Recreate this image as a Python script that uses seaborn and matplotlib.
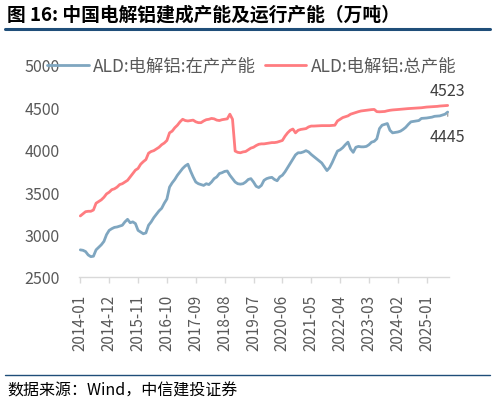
import numpy as np
import pandas as pd
import matplotlib
matplotlib.use("Agg")
import matplotlib.pyplot as plt
from matplotlib.lines import Line2D
import seaborn as sns

# monthly data 2014-01 .. 2025-09 (万吨)
months = pd.date_range("2014-01-01", "2025-09-01", freq="MS").strftime("%Y-%m").tolist()

running = [
    2820, 2815, 2800, 2760, 2740, 2745, 2820, 2850, 2880, 2920, 3000, 3050,  # 2014
    3070, 3085, 3090, 3100, 3110, 3150, 3180, 3140, 3150, 3130, 3050, 3030,  # 2015
    3010, 3020, 3110, 3150, 3200, 3240, 3280, 3310, 3370, 3420, 3560, 3610,  # 2016
    3650, 3700, 3740, 3780, 3810, 3830, 3750, 3680, 3620, 3600, 3590, 3580,  # 2017
    3600, 3590, 3620, 3660, 3680, 3720, 3730, 3745, 3750, 3700, 3660, 3620,  # 2018
    3600, 3595, 3600, 3620, 3650, 3660, 3620, 3570, 3555, 3580, 3640, 3660,  # 2019
    3670, 3675, 3650, 3635, 3680, 3700, 3740, 3790, 3840, 3890, 3940, 3965,  # 2020
    3965, 3975, 3990, 3975, 3945, 3920, 3895, 3870, 3845, 3800, 3755, 3790,  # 2021
    3850, 3920, 3985, 4000, 4025, 4060, 4090, 4010, 3970, 4030, 4040, 4035,  # 2022
    4035, 4040, 4060, 4090, 4100, 4130, 4250, 4290, 4300, 4310, 4230, 4200,  # 2023
    4205, 4210, 4220, 4240, 4265, 4300, 4330, 4335, 4340, 4345, 4370, 4372,  # 2024
    4375, 4380, 4385, 4395, 4398, 4400, 4410, 4420, 4445,                    # 2025
]

total = [
    3220, 3245, 3270, 3275, 3275, 3290, 3370, 3390, 3410, 3440, 3480, 3500,  # 2014
    3530, 3540, 3560, 3590, 3600, 3620, 3640, 3680, 3720, 3760, 3780, 3830,  # 2015
    3860, 3885, 3960, 3980, 3990, 4010, 4030, 4060, 4080, 4110, 4200, 4220,  # 2016
    4260, 4290, 4330, 4360, 4345, 4340, 4345, 4350, 4330, 4320, 4320, 4340,  # 2017
    4355, 4360, 4370, 4365, 4350, 4345, 4355, 4360, 4365, 4420, 4360, 3985,  # 2018
    3970, 3965, 3975, 3980, 4000, 4020, 4030, 4050, 4065, 4070, 4070, 4075,  # 2019
    4080, 4085, 4085, 4090, 4100, 4110, 4160, 4200, 4230, 4245, 4200, 4230,  # 2020
    4240, 4245, 4250, 4270, 4280, 4280, 4282, 4285, 4285, 4285, 4285, 4285,  # 2021
    4288, 4290, 4340, 4360, 4380, 4390, 4400, 4420, 4430, 4440, 4450, 4458,  # 2022
    4462, 4466, 4470, 4474, 4476, 4450, 4448, 4450, 4452, 4460, 4466, 4470,  # 2023
    4472, 4475, 4478, 4480, 4484, 4486, 4488, 4490, 4492, 4494, 4496, 4500,  # 2024
    4504, 4506, 4508, 4510, 4512, 4516, 4518, 4520, 4523,                    # 2025
]

name_run = "ALD:电解铝:在产产能"
name_tot = "ALD:电解铝:总产能"

df = pd.DataFrame({"idx": range(len(months)), "month": months,
                   name_run: running, name_tot: total})
long = df.melt(id_vars=["idx", "month"], var_name="series", value_name="value")

sns.set_theme(style="white")
plt.rcParams["font.family"] = ["Noto Sans CJK SC", "DejaVu Sans"]
grey = "#595959"

fig = plt.figure(figsize=(4.95, 4.06), dpi=100)
ax = fig.add_axes([79 / 495, 1 - 278 / 406, 370 / 495, 212 / 406])

sns.lineplot(data=long, x="idx", y="value", hue="series",
             palette={name_run: "#7FA6C0", name_tot: "#FF7C80"},
             linewidth=2.0, ax=ax, legend=False)

ax.set_xlim(-0.5, len(months) - 0.5)
ax.set_ylim(2500, 5000)
ax.set_yticks(np.arange(2500, 5001, 500))
ax.set_xticks(range(0, len(months), 11))
ax.set_xticklabels(months[::11], rotation=90)
ax.set_xlabel("")
ax.set_ylabel("")
for s in ["top", "right", "left"]:
    ax.spines[s].set_visible(False)
ax.spines["bottom"].set_color("#D9D9D9")
ax.spines["bottom"].set_linewidth(1.0)
ax.tick_params(axis="x", colors=grey, labelsize=11, length=4, width=1.0,
               color="#D9D9D9", direction="out", bottom=True, pad=8)
ax.tick_params(axis="y", colors=grey, labelsize=11.5, length=0, pad=14)

# end labels
ax.annotate(str(total[-1]), xy=(df["idx"].iloc[-1], total[-1]),
            xytext=(0, 11), textcoords="offset points", ha="center",
            va="center", fontsize=11.5, color="#404040")
ax.annotate(str(running[-1]), xy=(df["idx"].iloc[-1], running[-1]),
            xytext=(0, -17.5), textcoords="offset points", ha="center",
            va="center", fontsize=11.5, color="#404040",
            arrowprops=dict(arrowstyle="-", color="#A6A6A6", lw=1.0,
                            shrinkA=6, shrinkB=1))

handles = [Line2D([], [], color="#7FA6C0", lw=2.0),
           Line2D([], [], color="#FF7C80", lw=2.0)]
fig.legend(handles, [name_run, name_tot], loc="center left",
           bbox_to_anchor=(47 / 495, 1 - 67 / 406), ncol=2, frameon=False,
           prop={"size": 12.5}, labelcolor=grey, handlelength=2.4,
           handletextpad=0.25, columnspacing=0.5, borderpad=0,
           borderaxespad=0)

# header / footer
fig.text(7 / 495, 1 - 15 / 406, "图 16: 中国电解铝建成产能及运行产能（万吨）",
         fontsize=13.5, fontweight="bold", color="black", va="center")
fig.add_artist(Line2D([5 / 495, 490 / 495], [1 - 30 / 406] * 2,
                      transform=fig.transFigure, color="#1F4E79", lw=2.2))
fig.add_artist(Line2D([5 / 495, 490 / 495], [1 - 376 / 406] * 2,
                      transform=fig.transFigure, color="#1F4E79", lw=1.0))
fig.text(7 / 495, 1 - 391 / 406, "数据来源：Wind，中信建投证券",
         fontsize=11.5, style="italic", color="black", va="center")

fig.savefig("out.png", dpi=100)
